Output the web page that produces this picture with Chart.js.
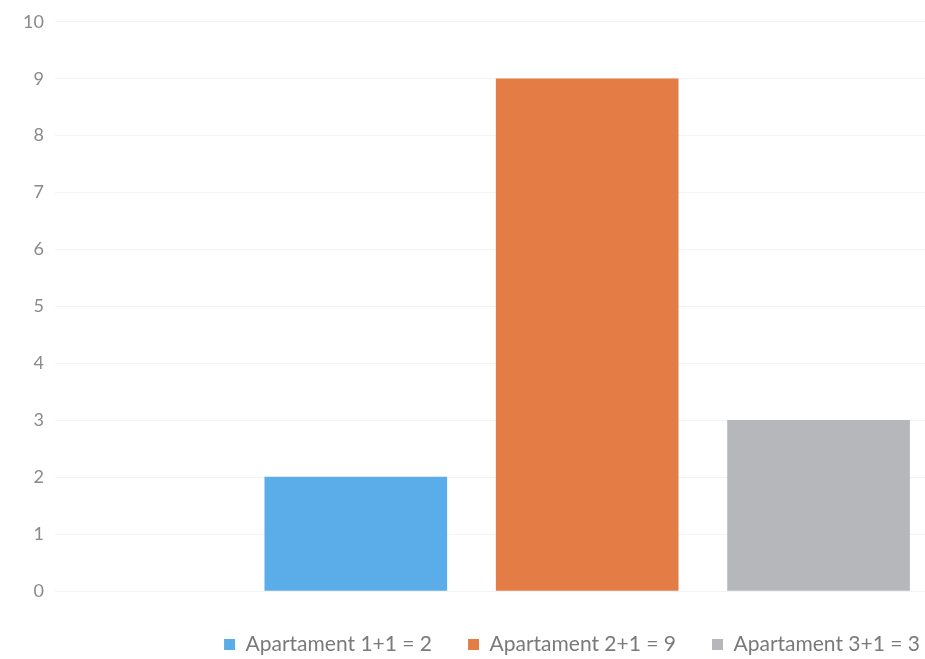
<!DOCTYPE html>
<html>
<head>
<meta charset="utf-8">
<script src="https://cdn.jsdelivr.net/npm/chart.js@4"></script>
<style>
  html, body { margin: 0; padding: 0; background: #fff; overflow: hidden; }
  #wrap { width: 925px; height: 659px; }
</style>
</head>
<body>
<div id="wrap"><canvas id="myChart"></canvas></div>
<script>
const categories = ['Apartament 1+1', 'Apartament 2+1', 'Apartament 3+1'];
const values = [2, 9, 3];
const colors = ['#5badea', '#e47d45', '#b5b7bb'];
const yTicks = [0, 1, 2, 3, 4, 5, 6, 7, 8, 9, 10];

(function () {
    const ctx = document.getElementById('myChart');

    // one dataset per apartment type so each gets its own legend entry
    const datasets = categories.map((name, i) => ({
        label: name + ' = ' + values[i],
        data: [{ x: i + 1, y: values[i] }],
        backgroundColor: colors[i],
        borderWidth: 0,
        barThickness: 182,
        grouped: false
    }));

    const config = {
        type: 'bar',
        data: { datasets: datasets },
        options: {
            responsive: true,
            maintainAspectRatio: false,
            animation: false,
            layout: { padding: { top: 20, right: -31, left: 0, bottom: -6 } },
            scales: {
                x: {
                    type: 'linear',
                    offset: false,
                    min: -0.3,
                    max: 3.46,
                    // empty axis, only keeps a small gap above the legend
                    afterFit: axis => { axis.height = 7; },
                    border: { display: false },
                    grid: { display: false },
                    ticks: { display: false }
                },
                y: {
                    min: 0,
                    max: 10,
                    afterBuildTicks: axis => { axis.ticks = yTicks.map(v => ({ value: v })); },
                    afterFit: axis => { axis.width = 55; },
                    border: { display: false },
                    grid: { color: '#f3f3f3', drawTicks: false },
                    ticks: {
                        color: '#8a8a8a',
                        padding: 11,
                        font: { family: 'Lato', size: 18 }
                    }
                }
            },
            plugins: {
                legend: {
                    position: 'bottom',
                    align: 'end',
                    labels: {
                        boxWidth: 11,
                        boxHeight: 11,
                        padding: 36,
                        color: '#7a7a7a',
                        font: { family: 'Lato', size: 21 }
                    }
                },
                tooltip: { enabled: false }
            }
        }
    };

    new Chart(ctx, config);
})();
</script>
</body>
</html>
